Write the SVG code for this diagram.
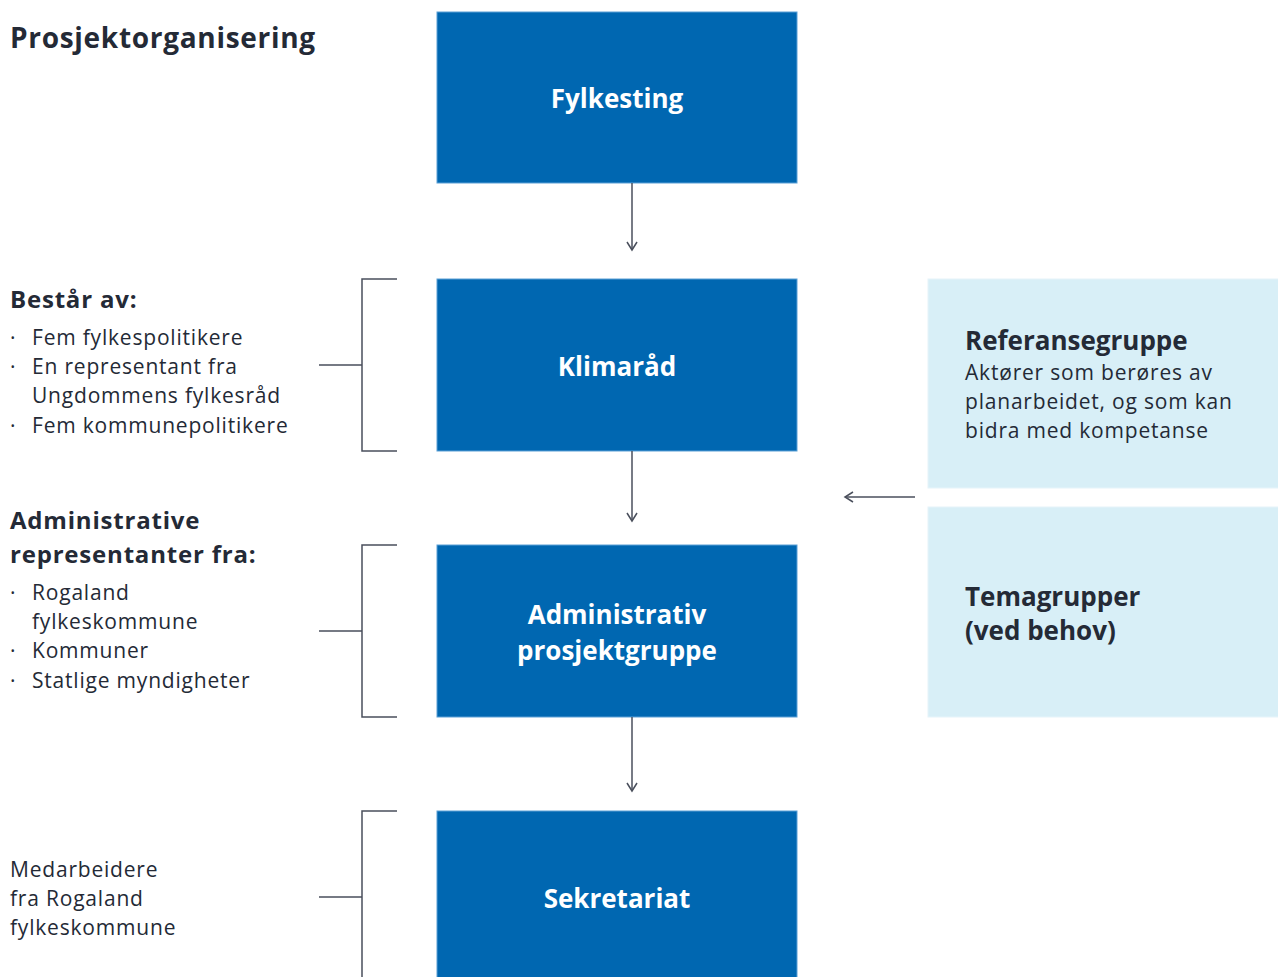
<svg xmlns="http://www.w3.org/2000/svg" width="1278" height="977" viewBox="0 0 1278 977">
<style>
.main{fill:#0067b1;stroke:#5aa0d6;stroke-width:1}
.light{fill:#d8eff7;stroke:#e6f4fa;stroke-width:1}
.wt{font-family:"Open Sans","Liberation Sans",sans-serif;font-weight:700;font-size:26px;fill:#ffffff;text-anchor:middle}
.h{font-family:"Open Sans","Liberation Sans",sans-serif;font-weight:700;fill:#242a36}
.hs{font-size:24px;letter-spacing:0.8px}
.t{font-family:"Open Sans","Liberation Sans",sans-serif;font-size:21px;fill:#242a36;letter-spacing:0.8px}
.ln{fill:none;stroke:#4a4f5c;stroke-width:1.5}
</style>
<defs>
<marker id="ah" viewBox="0 0 12 12" refX="10" refY="6" markerWidth="12" markerHeight="12" markerUnits="userSpaceOnUse" orient="auto">
<path d="M2,1 L10,6 L2,11" fill="none" stroke="#4a4f5c" stroke-width="1.5"/>
</marker>
</defs>
<text class="h" x="10" y="48" font-size="28" letter-spacing="0.7">Prosjektorganisering</text>

<g id="fylkesting">
<rect class="main" x="437" y="12" width="360" height="171"/>
<text class="wt" x="617" y="108">Fylkesting</text>
</g>
<g id="klimarad">
<rect class="main" x="437" y="279" width="360" height="172"/>
<text class="wt" x="617" y="376">Klimaråd</text>
</g>
<g id="adminprosjekt">
<rect class="main" x="437" y="545" width="360" height="172"/>
<text class="wt" x="617" y="624">Administrativ</text>
<text class="wt" x="617" y="660">prosjektgruppe</text>
</g>
<g id="sekretariat">
<rect class="main" x="437" y="811" width="360" height="180"/>
<text class="wt" x="617" y="908">Sekretariat</text>
</g>
<g id="referansegruppe">
<rect class="light" x="928" y="279" width="352" height="209"/>
<text class="h" x="965" y="350" font-size="26">Referansegruppe</text>
<text class="t" x="965" y="380" letter-spacing="0.6">Aktører som berøres av</text>
<text class="t" x="965" y="409" letter-spacing="0.6">planarbeidet, og som kan</text>
<text class="t" x="965" y="438" letter-spacing="0.6">bidra med kompetanse</text>
</g>
<g id="temagrupper">
<rect class="light" x="928" y="507" width="352" height="210"/>
<text class="h" x="965" y="606" font-size="26">Temagrupper</text>
<text class="h" x="965" y="640" font-size="26">(ved behov)</text>
</g>

<g id="bestar">
<text class="h hs" x="10" y="308">Består av:</text>
<text class="t" x="10" y="345">·</text><text class="t" x="32" y="345">Fem fylkespolitikere</text>
<text class="t" x="10" y="374">·</text><text class="t" x="32" y="374">En representant fra</text>
<text class="t" x="32" y="403">Ungdommens fylkesråd</text>
<text class="t" x="10" y="433">·</text><text class="t" x="32" y="433">Fem kommunepolitikere</text>
</g>
<g id="adminrep">
<text class="h hs" x="10" y="529">Administrative</text>
<text class="h hs" x="10" y="563">representanter fra:</text>
<text class="t" x="10" y="600">·</text><text class="t" x="32" y="600">Rogaland</text>
<text class="t" x="32" y="629">fylkeskommune</text>
<text class="t" x="10" y="658">·</text><text class="t" x="32" y="658">Kommuner</text>
<text class="t" x="10" y="688">·</text><text class="t" x="32" y="688">Statlige myndigheter</text>
</g>
<g id="medarbeidere">
<text class="t" x="10" y="877">Medarbeidere</text>
<text class="t" x="10" y="906">fra Rogaland</text>
<text class="t" x="10" y="935">fylkeskommune</text>
</g>

<g id="connectors">
<path class="ln" d="M632,183 V250" marker-end="url(#ah)"/>
<path class="ln" d="M632,451 V521" marker-end="url(#ah)"/>
<path class="ln" d="M632,717 V791" marker-end="url(#ah)"/>
<path class="ln" d="M915,497 H845" marker-end="url(#ah)"/>
<path class="ln" d="M397,279 H362 V451 H397 M319,365 H362"/>
<path class="ln" d="M397,545 H362 V717 H397 M319,631 H362"/>
<path class="ln" d="M397,811 H362 V977 M319,897 H362"/>
</g>
</svg>
